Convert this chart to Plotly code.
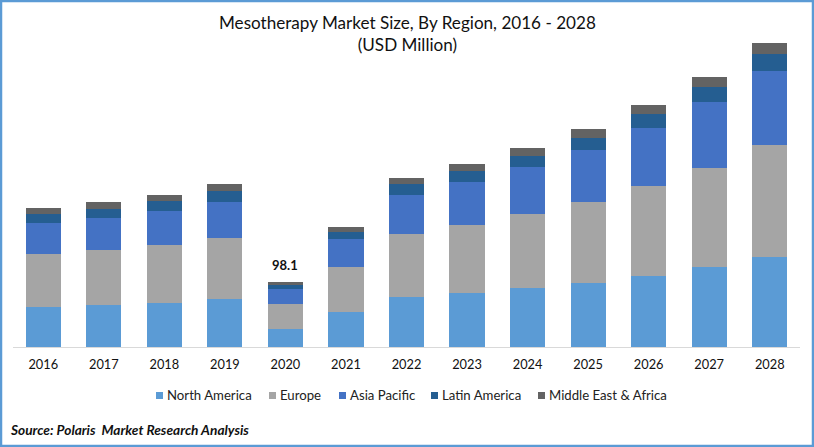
import plotly.graph_objects as go

years = ["2016","2017","2018","2019","2020","2021","2022","2023","2024","2025","2026","2027","2028"]
north_america = [60.4,63.4,66.4,72.4,27.2,52.8,75.5,81.5,89.0,96.6,107.1,120.7,135.8]
europe = [80.0,83.0,87.5,92.0,37.7,67.9,95.1,102.6,111.7,122.2,135.8,149.4,169.0]
asia_pacific = [46.8,48.3,51.3,54.3,22.6,42.3,58.9,64.9,70.9,78.5,87.5,99.6,111.7]
latin_america = [13.6,13.6,15.1,16.6,6.0,10.6,16.6,16.6,16.6,18.1,21.1,22.6,25.7]
mea = [9.0,10.6,9.0,10.6,4.6,7.5,9.0,10.6,12.1,13.6,13.6,15.1,16.6]

names = ["North America", "Europe", "Asia Pacific", "Latin America", "Middle East & Africa"]
colors = ["#5B9BD5", "#A5A5A5", "#4472C4", "#255E91", "#636363"]
values = [north_america, europe, asia_pacific, latin_america, mea]
legend_x = [156, 269, 339, 431, 538]

FONT = "Lato"
W, H = 814, 447
L, R, T, B = 13, 14, 29, 100
pw, ph = W - L - R, H - T - B

def px(x): return (x - L) / pw
def py(y): return 1 - (y - T) / ph

fig = go.Figure()
for name, vals, col in zip(names, values, colors):
    fig.add_bar(x=years, y=vals, name=name, marker=dict(color=col, line_width=0))

shapes = [dict(type="rect", xref="paper", yref="paper",
               x0=px(1), x1=px(W - 1), y0=py(H - 1), y1=py(1),
               line=dict(color="#5B9BD5", width=2.5), fillcolor="rgba(0,0,0,0)", layer="above")]
annotations = [
    dict(text="Mesotherapy Market Size, By Region, 2016 - 2028<br>(USD Million)",
         xref="paper", yref="paper", x=px(408), y=py(33.5), xanchor="center", yanchor="middle",
         showarrow=False, font=dict(family=FONT, size=17.1, color="#111111")),
    dict(text="<b>98.1</b>", x=years.index("2020"), y=98.1, yshift=17, showarrow=False,
         font=dict(family=FONT, size=13, color="#111111")),
    dict(text="<b><i>Source: Polaris  Market Research Analysis</i></b>",
         xref="paper", yref="paper", x=px(8), y=py(429), xanchor="left", yanchor="middle",
         showarrow=False, font=dict(family=FONT, size=13.7, color="#111111")),
]
for name, col, lx in zip(names, colors, legend_x):
    shapes.append(dict(type="rect", xref="paper", yref="paper",
                       x0=px(lx), x1=px(lx + 7), y0=py(399), y1=py(392),
                       line_width=0, fillcolor=col))
    annotations.append(dict(text=name, xref="paper", yref="paper", x=px(lx + 9), y=py(395),
                            xanchor="left", yanchor="middle", showarrow=False,
                            font=dict(family=FONT, size=13.2, color="#222222")))

fig.update_layout(
    width=W, height=H, autosize=False, barmode="stack", bargap=0.42,
    paper_bgcolor="white", plot_bgcolor="white",
    margin=dict(l=L, r=R, t=T, b=B, autoexpand=False),
    font=dict(family=FONT, color="#111111", size=13),
    showlegend=False,
    xaxis=dict(type="category", showline=True, linecolor="#D9D9D9", linewidth=1,
               ticks="", showgrid=False, tickfont=dict(family=FONT, size=12.8, color="#111111"),
               ticklabelstandoff=6),
    yaxis=dict(range=[0, 480], visible=False, showgrid=False),
    shapes=shapes,
    annotations=annotations,
)
fig.write_html("out.html", post_script="document.body.style.margin='0';",
               config={"displayModeBar": False})
